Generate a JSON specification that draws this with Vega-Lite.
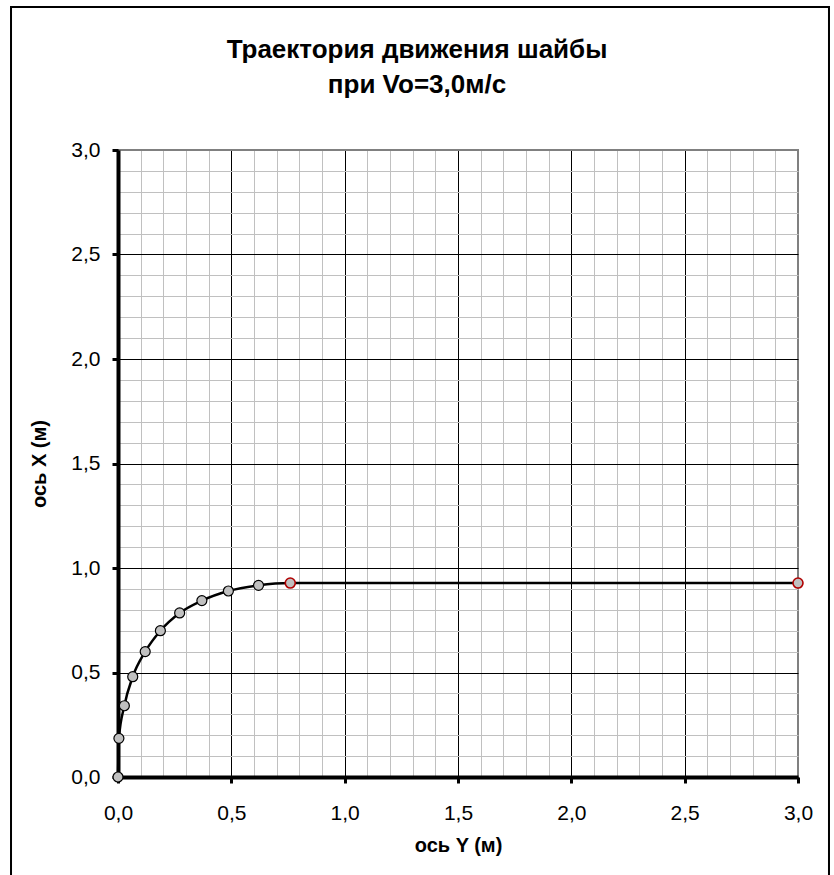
{
  "$schema": "https://vega.github.io/schema/vega-lite/v6.json",
  "width": 680,
  "height": 627,
  "autosize": {"type": "none"},
  "padding": {"left": 118, "top": 150, "right": 36, "bottom": 98},
  "background": "white",
  "title": {
    "text": ["Траектория движения шайбы", "при Vo=3,0м/с"],
    "font": "Liberation Sans",
    "fontSize": 26,
    "fontWeight": "bold",
    "color": "black",
    "anchor": "middle",
    "lineHeight": 35,
    "offset": 0,
    "dx": -41,
    "dy": 92
  },
  "config": {
    "font": "Liberation Sans",
    "view": {"stroke": "#808080", "strokeWidth": 2}
  },
  "layer": [
    {
      "data": {"values": [
        {"Y": 0.0, "X": 0.0, "kind": "точка"},
        {"Y": 0.004, "X": 0.185, "kind": "точка"},
        {"Y": 0.028, "X": 0.341, "kind": "точка"},
        {"Y": 0.065, "X": 0.48, "kind": "точка"},
        {"Y": 0.12, "X": 0.6, "kind": "точка"},
        {"Y": 0.187, "X": 0.7, "kind": "точка"},
        {"Y": 0.272, "X": 0.785, "kind": "точка"},
        {"Y": 0.37, "X": 0.844, "kind": "точка"},
        {"Y": 0.487, "X": 0.89, "kind": "точка"},
        {"Y": 0.62, "X": 0.917, "kind": "точка"},
        {"Y": 0.76, "X": 0.928, "kind": "остановка"},
        {"Y": 3.0, "X": 0.928, "kind": "остановка"}
      ]},
      "layer": [
        {
          "mark": {"type": "line", "interpolate": "monotone", "color": "black", "strokeWidth": 2.5},
          "encoding": {
            "x": {
              "field": "Y", "type": "quantitative",
              "scale": {"domain": [0, 3], "nice": false, "zero": false},
              "axis": {
                "title": "ось Y (м)",
                "values": [0, 0.1, 0.2, 0.3, 0.4, 0.5, 0.6, 0.7, 0.8, 0.9, 1, 1.1, 1.2, 1.3, 1.4, 1.5, 1.6, 1.7, 1.8, 1.9, 2, 2.1, 2.2, 2.3, 2.4, 2.5, 2.6, 2.7, 2.8, 2.9, 3],
                "tickCount": 100,
                "grid": true,
                "gridColor": {"condition": [{"test": "datum.value > 2.95", "value": "#808080"}, {"test": "abs(datum.value*2 - round(datum.value*2)) < 0.001", "value": "black"}], "value": "#c0c0c0"},
                "gridWidth": 1,
                "domainColor": "black",
                "domainWidth": 4,
                "tickColor": {"condition": {"test": "abs(datum.value*2 - round(datum.value*2)) < 0.001", "value": "black"}, "value": "transparent"},
                "tickSize": 6,
                "tickWidth": 3,
                "labelExpr": "abs(datum.value*2 - round(datum.value*2)) < 0.001 ? replace(format(datum.value, '.1f'), '.', ',') : ''",
                "labelFont": "Liberation Sans",
                "labelFontSize": 21,
                "labelColor": "black",
                "labelPadding": 19,
                "labelFlush": false,
                "labelOverlap": false,
                "titleFont": "Liberation Sans",
                "titleFontSize": 20,
                "titleFontWeight": "bold",
                "titleColor": "black",
                "titlePadding": 12
              }
            },
            "y": {
              "field": "X", "type": "quantitative",
              "scale": {"domain": [0, 3], "nice": false, "zero": false},
              "axis": {
                "title": "ось X (м)",
                "values": [0, 0.1, 0.2, 0.3, 0.4, 0.5, 0.6, 0.7, 0.8, 0.9, 1, 1.1, 1.2, 1.3, 1.4, 1.5, 1.6, 1.7, 1.8, 1.9, 2, 2.1, 2.2, 2.3, 2.4, 2.5, 2.6, 2.7, 2.8, 2.9, 3],
                "tickCount": 100,
                "grid": true,
                "gridColor": {"condition": [{"test": "datum.value > 2.95", "value": "#808080"}, {"test": "abs(datum.value*2 - round(datum.value*2)) < 0.001", "value": "black"}], "value": "#c0c0c0"},
                "gridWidth": 1,
                "domainColor": "black",
                "domainWidth": 4,
                "tickColor": {"condition": {"test": "abs(datum.value*2 - round(datum.value*2)) < 0.001", "value": "black"}, "value": "transparent"},
                "tickSize": 6,
                "tickWidth": 3,
                "labelExpr": "abs(datum.value*2 - round(datum.value*2)) < 0.001 ? replace(format(datum.value, '.1f'), '.', ',') : ''",
                "labelFont": "Liberation Sans",
                "labelFontSize": 21,
                "labelColor": "black",
                "labelPadding": 12,
                "labelFlush": false,
                "labelOverlap": false,
                "titleFont": "Liberation Sans",
                "titleFontSize": 20,
                "titleFontWeight": "bold",
                "titleColor": "black",
                "titlePadding": 21
              }
            }
          }
        },
        {
          "mark": {"type": "circle", "size": 100, "fill": "#c0c0c0", "strokeWidth": 1.2, "opacity": 1},
          "encoding": {
            "x": {"field": "Y", "type": "quantitative", "title": "ось Y (м)"},
            "y": {"field": "X", "type": "quantitative", "title": "ось X (м)"},
            "stroke": {"field": "kind", "type": "nominal", "scale": {"domain": ["точка", "остановка"], "range": ["black", "#b00000"]}, "legend": null},
            "strokeWidth": {"field": "kind", "type": "nominal", "scale": {"domain": ["точка", "остановка"], "range": [1.2, 1.6]}, "legend": null}
          }
        }
      ]
    },
    {
      "data": {"values": [{}]},
      "mark": {"type": "rect", "fill": null, "stroke": "black", "strokeWidth": 2, "clip": false},
      "encoding": {
        "x": {"datum": -0.472, "type": "quantitative", "title": "ось Y (м)"},
        "x2": {"datum": 3.1367},
        "y": {"datum": 3.684, "type": "quantitative", "title": "ось X (м)"},
        "y2": {"datum": -0.5}
      }
    }
  ]
}
